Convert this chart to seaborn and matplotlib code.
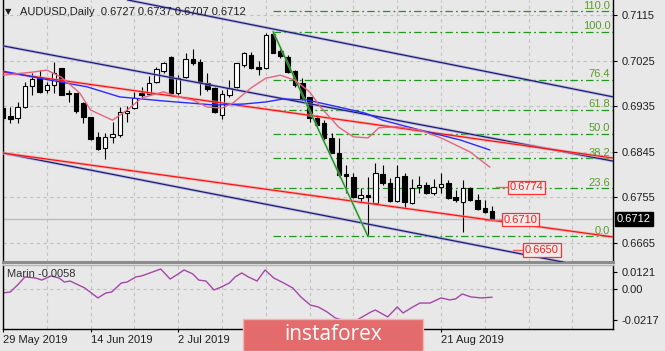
import numpy as np
import pandas as pd
import seaborn as sns
import matplotlib
matplotlib.use("Agg")
import matplotlib.pyplot as plt
from matplotlib.patches import Rectangle

# daily candles, bar 0 = 29 May 2019
opens = [0.6931, 0.6915, 0.6911, 0.6933, 0.6975, 0.6990, 0.6967, 0.6977, 0.7010, 0.6961,
         0.6960, 0.6941, 0.6913, 0.6874, 0.6852, 0.6874, 0.6878, 0.6921, 0.6931, 0.6961,
         0.6959, 0.6983, 0.7004, 0.7032, 0.6961, 0.6992, 0.7028, 0.7022, 0.6981, 0.6971,
         0.6917, 0.6957, 0.6973, 0.7016, 0.7036, 0.7012, 0.7010, 0.7077, 0.7044, 0.7032,
         0.7004, 0.6981, 0.6953, 0.6911, 0.6901, 0.6872, 0.6842, 0.6801, 0.6795, 0.6753,
         0.6759, 0.6743, 0.6801, 0.6783, 0.6747, 0.6797, 0.6743, 0.6775, 0.6779, 0.6763,
         0.6775, 0.6783, 0.6755, 0.6745, 0.6773, 0.6749, 0.6733, 0.6727]
highs = [0.6933, 0.6933, 0.6943, 0.6983, 0.7000, 0.7006, 0.6983, 0.7022, 0.7011, 0.6967,
         0.6961, 0.6943, 0.6914, 0.6884, 0.6882, 0.6903, 0.6933, 0.6935, 0.6963, 0.6973,
         0.6994, 0.7012, 0.7022, 0.7034, 0.6996, 0.7040, 0.7048, 0.7028, 0.7000, 0.6973,
         0.6967, 0.6986, 0.7020, 0.7042, 0.7042, 0.7024, 0.7079, 0.7082, 0.7050, 0.7036,
         0.7006, 0.6990, 0.6953, 0.6917, 0.6907, 0.6882, 0.6872, 0.6818, 0.6803, 0.6773,
         0.6795, 0.6822, 0.6818, 0.6793, 0.6818, 0.6803, 0.6791, 0.6797, 0.6785, 0.6791,
         0.6803, 0.6789, 0.6769, 0.6789, 0.6775, 0.6761, 0.6749, 0.6737]
lows = [0.6903, 0.6901, 0.6901, 0.6931, 0.6957, 0.6961, 0.6961, 0.6961, 0.6956, 0.6943,
        0.6921, 0.6901, 0.6868, 0.6848, 0.6830, 0.6862, 0.6874, 0.6903, 0.6929, 0.6953,
        0.6957, 0.6981, 0.7000, 0.6957, 0.6957, 0.6990, 0.7016, 0.6957, 0.6965, 0.6921,
        0.6909, 0.6953, 0.6971, 0.7012, 0.7008, 0.6996, 0.7008, 0.7040, 0.7030, 0.7000,
        0.6973, 0.6947, 0.6903, 0.6896, 0.6868, 0.6842, 0.6795, 0.6763, 0.6753, 0.6745,
        0.6677, 0.6743, 0.6779, 0.6745, 0.6745, 0.6733, 0.6741, 0.6763, 0.6761, 0.6759,
        0.6763, 0.6751, 0.6745, 0.6686, 0.6747, 0.6729, 0.6723, 0.6707]
closes = [0.6911, 0.6909, 0.6933, 0.6975, 0.6988, 0.6963, 0.6977, 0.7000, 0.6957, 0.6959,
          0.6925, 0.6913, 0.6870, 0.6850, 0.6874, 0.6880, 0.6923, 0.6925, 0.6951, 0.6957,
          0.6981, 0.7008, 0.7020, 0.6961, 0.6990, 0.7028, 0.7020, 0.6983, 0.6969, 0.6923,
          0.6959, 0.6971, 0.7020, 0.7040, 0.7010, 0.7008, 0.7075, 0.7040, 0.7034, 0.7002,
          0.6977, 0.6951, 0.6911, 0.6898, 0.6872, 0.6842, 0.6799, 0.6797, 0.6755, 0.6759,
          0.6755, 0.6803, 0.6783, 0.6747, 0.6795, 0.6745, 0.6773, 0.6779, 0.6763, 0.6775,
          0.6781, 0.6753, 0.6749, 0.6773, 0.6749, 0.6731, 0.6725, 0.6712]

# visible date labels (the ones in between sit under the watermark)
date_ticks = [0, 12, 24, 60]
date_labels = ["29 May 2019", "14 Jun 2019", "2 Jul 2019", "21 Aug 2019"]
price_ticks = [0.6665, 0.6755, 0.6845, 0.6935, 0.7025, 0.7115]

# moving averages
fast_ma_x = [0, 4, 6, 8, 10.5, 12, 15, 17, 19, 22, 24, 26, 28, 30, 31.5, 34, 36, 38, 40, 42,
             43.5, 46, 48, 50, 51.5, 54, 57, 60, 64, 66.7]
fast_ma = [0.6996, 0.7002, 0.7006, 0.6992, 0.6961, 0.6927, 0.6907, 0.6927, 0.6951, 0.6963,
           0.6953, 0.6947, 0.6933, 0.6931, 0.6941, 0.6971, 0.6990, 0.6996, 0.6986, 0.6963,
           0.6933, 0.6893, 0.6874, 0.6872, 0.6892, 0.6894, 0.6888, 0.6872, 0.6844, 0.6814]
slow_ma_x = [0, 5, 11.5, 16, 22, 29, 33, 36, 38.4, 41.6, 46, 49.6, 52, 57, 62.6, 66.7]
slow_ma = [0.7004, 0.6990, 0.6973, 0.6953, 0.6945, 0.6937, 0.6939, 0.6943, 0.6949, 0.6947,
           0.6933, 0.6921, 0.6907, 0.6888, 0.6868, 0.6848]

# trend lines: (bar, price) anchors
navy_x = [[17, 83.6], [0, 83.6], [0, 83.6]]
navy_p = [[0.7145, 0.6953], [0.7054, 0.6826], [0.6842, 0.6607]]
red_x = [[0, 83.6], [0, 83.6]]
red_p = [[0.7002, 0.6832], [0.6842, 0.6676]]
swing_x = [37, 50]
swing_p = [0.7082, 0.6677]

fib_levels = [0.0, 23.6, 38.2, 50.0, 61.8, 76.4, 100.0, 110.0]
fib_low, fib_high = 0.6677, 0.7082
marks = [0.6774, 0.6710, 0.6650]
last_price = 0.6712

# oscillator panel
osc_x = [0, 1, 2, 3, 4.5, 5.3, 6.6, 7.7, 8.4, 9.2, 11.2, 13, 14.1, 14.9, 16.2, 17, 18.2, 19,
         20.5, 21.6, 22.9, 24, 24.8, 26, 26.8, 27.8, 28.9, 29.9, 31, 31.8, 32.7, 33.6, 34.8,
         35.9, 37.1, 38.2, 39.7, 40.8, 42.1, 43.2, 44.4, 45.5, 47.8, 50.4, 51, 52.7, 54, 54.8,
         55.9, 57.1, 58.5, 60, 61.2, 62, 62.9, 64.1, 65.5, 67]
osc = [-0.0028, -0.0021, 0.0028, 0.0085, 0.0077, 0.0063, 0.0092, 0.0077, 0.0049, 0.0056,
       0.0007, -0.0063, -0.0028, -0.0021, 0.0042, 0.0049, 0.0085, 0.0092, 0.0120, 0.0141,
       0.0070, 0.0106, 0.0134, 0.0106, 0.0063, 0.0056, -0.0007, 0.0014, 0.0042, 0.0085,
       0.0113, 0.0085, 0.0056, 0.0134, 0.0077, 0.0049, 0.0007, -0.0056, -0.0113, -0.0127,
       -0.0162, -0.0204, -0.0239, -0.0162, -0.0148, -0.0197, -0.0127, -0.0169, -0.0134, -0.0099,
       -0.0099, -0.0063, -0.0077, -0.0070, -0.0035, -0.0056, -0.0063, -0.0058]
osc_ticks = [-0.0217, 0.0, 0.0121]
osc_labels = ["-0.0217", "0.00", "0.0121"]

sns.set_theme(style="white")
plt.rcParams["font.family"] = ["Liberation Sans", "DejaVu Sans"]
plt.rcParams["font.size"] = 8

BG = "#e8e8e8"
TXT = "#202020"
GRID = "#c2c2c2"
W, H = 665, 351

fig = plt.figure(figsize=(W / 100, H / 100), dpi=100, facecolor=BG)
ax = fig.add_axes([3 / W, 1 - 262 / H, 610 / W, 262 / H])
ax2 = fig.add_axes([3 / W, 1 - 329 / H, 610 / W, 64 / H])
XMAX = 83.56

for a in (ax, ax2):
    a.set_facecolor(BG)
    a.set_xlim(0, XMAX)
    for gx in np.arange(0, 84, 6):
        a.axvline(gx, color=GRID, lw=0.8, ls=(0, (3, 3)), zorder=0)
    a.yaxis.tick_right()
    a.tick_params(axis="y", length=3, width=0.8, pad=3, labelsize=8, labelcolor=TXT, color="black")
    for s in ("left", "right"):
        a.spines[s].set_color("black")
        a.spines[s].set_linewidth(1)

ax.set_ylim(0.66265, 0.71447)
ax.set_yticks(price_ticks)
ax.set_yticklabels([f"{p:.4f}" for p in price_ticks])
for p in price_ticks:
    ax.axhline(p, color=GRID, lw=0.8, ls=(0, (3, 3)), zorder=0)
ax.set_xticks([])
ax.spines["top"].set_visible(False)
ax.spines["bottom"].set_color("#8c8c8c")
ax.spines["bottom"].set_linewidth(2.2)

# bid line
ax.axhline(last_price, color="#bdbdbd", lw=1, zorder=1)

# fibonacci levels
fib_prices = [fib_low + (fib_high - fib_low) * lv / 100 for lv in fib_levels]
ax.hlines(fib_prices, 37, XMAX, colors="#1f991f", lw=0.9, ls=(0, (6, 2.5, 1.5, 2.5)), zorder=2)
for lv, fp in zip(fib_levels, fib_prices):
    ax.text(83.2, fp + 0.00012, f"{lv:.1f}", color="#5c9a2c", fontsize=8,
            ha="right", va="bottom", zorder=6)

# candles
df = pd.DataFrame({"o": opens, "h": highs, "l": lows, "c": closes})
df["x"] = np.arange(len(df))
up = df["c"] > df["o"]
ax.vlines(df["x"], df["l"], df["h"], color="black", lw=0.8, zorder=3)
body = (df["c"] - df["o"]).abs().clip(lower=0.00012)
ax.bar(df["x"], body, bottom=df[["o", "c"]].min(axis=1), width=0.62,
       color=np.where(up, "white", "black"), edgecolor="black", linewidth=0.8, zorder=4)

# channel / trend lines
for xs, ps in zip(navy_x, navy_p):
    ax.plot(xs, ps, color="#a3a3d3", lw=2.2, alpha=0.6, solid_capstyle="butt", zorder=5)
    ax.plot(xs, ps, color="#1c1c78", lw=0.9, zorder=5)
for xs, ps in zip(red_x, red_p):
    ax.plot(xs, ps, color="#f4a0a0", lw=2.2, alpha=0.6, solid_capstyle="butt", zorder=5)
    ax.plot(xs, ps, color="#ff1010", lw=0.9, zorder=5)
ax.plot(swing_x, swing_p, color="#95d095", lw=1.8, alpha=0.7, zorder=5)
ax.plot(swing_x, swing_p, color="#138a13", lw=0.8, zorder=5)

sns.lineplot(x=slow_ma_x, y=slow_ma, ax=ax, color="#2b2bff", lw=1, zorder=5)
sns.lineplot(x=fast_ma_x, y=fast_ma, ax=ax, color="#e5647f", lw=1, zorder=5)
ax.set_xlabel("")
ax.set_ylabel("")

# price labels with leaders
leaders = [(67.6, 69.2), (66.0, 68.4), (69.9, 71.2)]
text_x = [69.4, 68.6, 71.5]
for m, (l0, l1), tx in zip(marks, leaders, text_x):
    ax.plot([l0, l1], [m, m], color="#f06060", lw=1, zorder=6)
    ax.text(tx, m, f"{m:.4f}", color="#f02020", fontsize=8, ha="left", va="center", zorder=7,
            bbox=dict(boxstyle="square,pad=0.15", fc="#ececec", ec="#ff3030", lw=0.9))

ax.text(1.0066, last_price, f"{last_price:.4f}", transform=ax.get_yaxis_transform(),
        color="white", fontsize=8, ha="left", va="center", zorder=8, clip_on=False,
        bbox=dict(boxstyle="square,pad=0.2", fc="black", ec="black"))

ax.text(0.004, 0.955, "\u25bc", transform=ax.transAxes, fontsize=6, color=TXT,
        ha="left", va="center", family=["DejaVu Sans"])
ax.text(0.028, 0.955, "AUDUSD,Daily  0.6727 0.6737 0.6707 0.6712", transform=ax.transAxes,
        fontsize=8, color=TXT, ha="left", va="center", zorder=7)

# oscillator
ax2.set_ylim(-0.0282, 0.0169)
ax2.axhline(0, color=GRID, lw=0.8, ls=(0, (3, 3)), zorder=0)
sns.lineplot(x=osc_x, y=osc, ax=ax2, color="#a447a8", lw=1)
ax2.set_xlabel("")
ax2.set_ylabel("")
ax2.set_yticks(osc_ticks)
ax2.set_yticklabels(osc_labels)
ax2.set_xticks(date_ticks)
ax2.set_xticklabels(date_labels)
for lab in ax2.get_xticklabels():
    lab.set_horizontalalignment("left")
ax2.tick_params(axis="x", bottom=True, length=2.5, width=0.8, pad=2, labelsize=8,
                labelcolor=TXT, color="black")
ax2.spines["bottom"].set_color("black")
ax2.spines["bottom"].set_linewidth(1)
ax2.spines["top"].set_color("#b4b4b4")
ax2.spines["top"].set_linewidth(1)
ax2.text(0.006, 0.86, "Marin -0.0058", transform=ax2.transAxes, fontsize=8, color="#303030",
         ha="left", va="center")

# watermark
fig.add_artist(Rectangle((243 / W, 0), 180 / W, 32 / H, transform=fig.transFigure,
                         fc="#e36b6b", ec="#f2b4b4", lw=1, zorder=10))
fig.text(333 / W, 16 / H, "instaforex", color="white", fontsize=15, ha="center", va="center",
         family=["Open Sans", "DejaVu Sans"], zorder=11)

fig.savefig("out.png", dpi=100, facecolor=BG)
